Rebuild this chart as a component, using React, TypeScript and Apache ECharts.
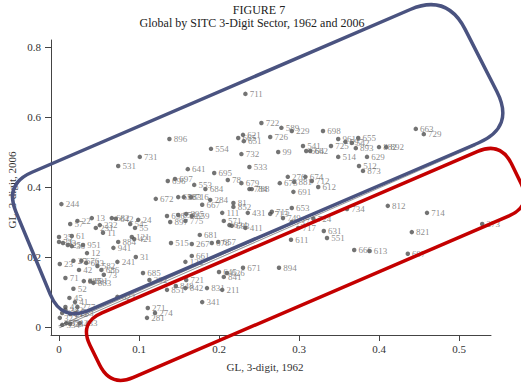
import React, { useEffect, useRef } from "react";
import * as echarts from "echarts";

const codes = [
  "711","722","589","229","698","663","729","655","961","597","542","725","893","882","892","514","629","512","873",
  "621","651","665","726","896","554","732","99","533","541","664","662","531","731","641","695","78","679","696","697",
  "553","684","672","658","683","716","284","667","81","852","111","431","571","634","693","411","681","656","654","895",
  "897","775","659","515","267","657","678","661","122","685","292","721","851","848","842","831","211","341","271","274",
  "281","622","671","626","841","645","894","653","734","724","631","551","611","717","715","713","666","613","812","714",
  "821","697","273","276","674","675","881","712","612","691","784","788","749","737",
  "244","57","22","13","682","642","231","232","11","35","61","34","33","25","36","951","12","884","941","24","55","54",
  "121","421","23","27","676","643","42","582","686","73","241","31","71","885","891","883","52","45","41","277","43",
  "334","351","384","233","322","335","332","212","263"
];

const gl1962 = [
  0.233,0.253,0.278,0.291,0.330,0.446,0.456,0.374,0.349,0.358,0.366,0.340,0.371,0.400,0.409,0.349,0.385,0.375,0.380,
  0.230,0.231,0.224,0.264,0.138,0.190,0.228,0.274,0.238,0.305,0.309,0.314,0.074,0.101,0.161,0.194,0.211,0.228,0.136,0.145,
  0.169,0.183,0.121,0.149,0.156,0.165,0.189,0.179,0.218,0.218,0.204,0.236,0.206,0.213,0.216,0.233,0.176,0.135,0.149,0.159,
  0.139,0.158,0.166,0.140,0.166,0.199,0.191,0.166,0.158,0.105,0.113,0.159,0.135,0.146,0.158,0.185,0.204,0.179,0.111,0.120,
  0.110,0.073,0.230,0.210,0.206,0.200,0.275,0.291,0.360,0.318,0.331,0.335,0.290,0.299,0.266,0.264,0.369,0.388,0.411,0.460,
  0.441,0.436,0.529,0.286,0.308,0.276,0.294,0.316,0.324,0.293,0.238,0.241,0.280,0.291,
  0.003,0.014,0.023,0.041,0.066,0.071,0.046,0.051,0.055,0.000,0.016,0.000,0.005,0.011,0.016,0.030,0.035,0.074,0.068,0.099,0.095,0.089,
  0.091,0.094,0.001,0.018,0.028,0.034,0.025,0.048,0.053,0.056,0.073,0.096,0.008,0.031,0.039,0.043,0.018,0.013,0.020,0.023,0.008,
  0.004,0.009,0.014,0.026,0.001,0.004,0.008,0.014,0.021
];

const gl2006 = [
  0.666,0.583,0.569,0.560,0.560,0.566,0.551,0.540,0.537,0.529,0.526,0.517,0.511,0.514,0.514,0.486,0.486,0.460,0.446,
  0.549,0.531,0.540,0.543,0.537,0.509,0.494,0.500,0.457,0.517,0.503,0.503,0.460,0.486,0.451,0.440,0.420,0.411,0.417,0.423,
  0.406,0.394,0.366,0.371,0.371,0.371,0.363,0.349,0.354,0.343,0.326,0.326,0.303,0.291,0.289,0.283,0.263,0.317,0.320,0.323,
  0.300,0.303,0.317,0.240,0.237,0.243,0.240,0.203,0.186,0.154,0.134,0.134,0.106,0.117,0.111,0.111,0.106,0.071,0.054,0.040,
  0.026,0.086,0.169,0.154,0.143,0.157,0.169,0.340,0.337,0.309,0.274,0.254,0.249,0.283,0.329,0.323,0.220,0.217,0.346,0.326,
  0.271,0.209,0.294,0.429,0.429,0.411,0.414,0.417,0.400,0.386,0.394,0.394,0.311,0.300,
  0.351,0.294,0.303,0.311,0.311,0.309,0.283,0.291,0.269,0.257,0.260,0.243,0.240,0.234,0.231,0.234,0.211,0.243,0.226,0.306,0.283,0.294,
  0.257,0.251,0.180,0.189,0.189,0.183,0.163,0.174,0.163,0.149,0.186,0.200,0.140,0.131,0.131,0.126,0.109,0.083,0.071,0.057,0.057,
  0.006,0.011,0.009,0.011,0.026,0.040,0.049,0.037,0.040
];

const xTicks = [0, 0.1, 0.2, 0.3, 0.4, 0.5];
const yTicks = [0, 0.2, 0.4, 0.6, 0.8];
const diagonalEnds = [0, 0.52];

const serif = "Liberation Serif";

// hand-drawn highlight outlines (annotation overlay, in page pixels)
const blueCorners = [[4.4, 184.1], [447, -6.3], [515, 127.2], [61.8, 322]];
const blueRadii = [30, 40, 40, 30];
const redCorners = [[79, 322.8], [500.7, 141.5], [532, 206], [110.5, 387.3]];
const redRadii = [25, 25, 25, 25];

function roundedPath(pts: number[][], radii: number[]): string {
  const n = pts.length;
  let d = "";
  for (let i = 0; i < n; i++) {
    const p = pts[i];
    const prev = pts[(i + n - 1) % n];
    const next = pts[(i + 1) % n];
    const r = radii[i];
    const v1 = [prev[0] - p[0], prev[1] - p[1]];
    const v2 = [next[0] - p[0], next[1] - p[1]];
    const l1 = Math.hypot(v1[0], v1[1]);
    const l2 = Math.hypot(v2[0], v2[1]);
    const a = [p[0] + (v1[0] / l1) * r, p[1] + (v1[1] / l1) * r];
    const b = [p[0] + (v2[0] / l2) * r, p[1] + (v2[1] / l2) * r];
    d += `${i === 0 ? "M" : "L"}${a[0].toFixed(2)} ${a[1].toFixed(2)} Q${p[0]} ${p[1]} ${b[0].toFixed(2)} ${b[1].toFixed(2)} `;
  }
  return d + "Z";
}

let registered = false;
function registerShapes() {
  if (registered) return;
  registered = true;
  echarts.graphic.registerShape("blueBox", echarts.graphic.extendPath(roundedPath(blueCorners, blueRadii), {}) as any);
  echarts.graphic.registerShape("redBox", echarts.graphic.extendPath(roundedPath(redCorners, redRadii), {}) as any);
}

export default function App() {
  const ref = useRef<HTMLDivElement>(null);
  useEffect(() => {
    if (!ref.current) return;
    registerShapes();
    const chart = echarts.init(ref.current, null, { renderer: "svg" });
    const pts = codes.map((c, i) => ({ name: c, value: [gl1962[i], gl2006[i]] }));
    const diag = diagonalEnds.map((v) => [v, v]);
    chart.setOption({
      animation: false,
      backgroundColor: "#ffffff",
      grid: { left: 51, right: 30, top: 40, bottom: 50 },
      xAxis: {
        type: "value",
        min: -0.01,
        max: 0.54,
        axisLine: { show: true, onZero: false, lineStyle: { color: "#444", width: 1 } },
        axisTick: { show: true, customValues: xTicks, length: 6, lineStyle: { color: "#444" } },
        axisLabel: {
          customValues: xTicks,
          formatter: (v: number) => String(v),
          fontFamily: serif,
          fontSize: 11,
          color: "#333",
          margin: 8,
        },
        splitLine: { show: false },
      },
      yAxis: {
        type: "value",
        min: -0.023,
        max: 0.82,
        axisLine: { show: true, onZero: false, lineStyle: { color: "#444", width: 1 } },
        axisTick: { show: true, customValues: yTicks, length: 6, lineStyle: { color: "#444" } },
        axisLabel: {
          customValues: yTicks,
          formatter: (v: number) => String(v),
          fontFamily: serif,
          fontSize: 11,
          color: "#333",
          margin: 10,
        },
        splitLine: { show: false },
      },
      series: [
        {
          type: "line",
          data: diag,
          symbol: "none",
          lineStyle: { color: "#9a9a9a", width: 3 },
          z: 1,
          silent: true,
        },
        {
          type: "line",
          data: diag,
          symbol: "none",
          lineStyle: { color: "#fff", width: 1 },
          z: 1,
          silent: true,
        },
        {
          type: "scatter",
          data: pts,
          symbolSize: 4.5,
          itemStyle: { color: "#505050" },
          label: {
            show: true,
            position: "right",
            distance: 2,
            formatter: "{b}",
            fontFamily: serif,
            fontSize: 9,
            color: "#6e6e6e",
          },
          labelLayout: { hideOverlap: false },
          z: 2,
        },
      ],
      graphic: [
        {
          type: "text",
          x: 259,
          y: 10,
          style: { text: "FIGURE 7", font: `12px "${serif}"`, fill: "#222", align: "center", verticalAlign: "middle" },
        },
        {
          type: "text",
          x: 252,
          y: 23,
          style: {
            text: "Global by SITC 3-Digit Sector, 1962 and 2006",
            font: `12px "${serif}"`,
            fill: "#222",
            align: "center",
            verticalAlign: "middle",
          },
        },
        {
          type: "text",
          x: 265,
          y: 367,
          style: { text: "GL, 3-digit, 1962", font: `11px "${serif}"`, fill: "#333", align: "center", verticalAlign: "middle" },
        },
        {
          type: "text",
          x: 12,
          y: 190,
          rotation: Math.PI / 2,
          style: { text: "GL, 3-digit, 2006", font: `11px "${serif}"`, fill: "#333", align: "center", verticalAlign: "middle" },
        },
        {
          type: "blueBox",
          x: 0,
          y: 0,
          style: { fill: "none", stroke: "#4a5380", lineWidth: 3.5 },
          z: 100,
        },
        {
          type: "redBox",
          x: 0,
          y: 0,
          style: { fill: "none", stroke: "#c40000", lineWidth: 3.5 },
          z: 100,
        },
      ],
    });
    return () => chart.dispose();
  }, []);
  return (
    <div
      ref={ref}
      style={{ position: "fixed", left: 0, top: 0, width: 521, height: 385, background: "#fff" }}
    />
  );
}
